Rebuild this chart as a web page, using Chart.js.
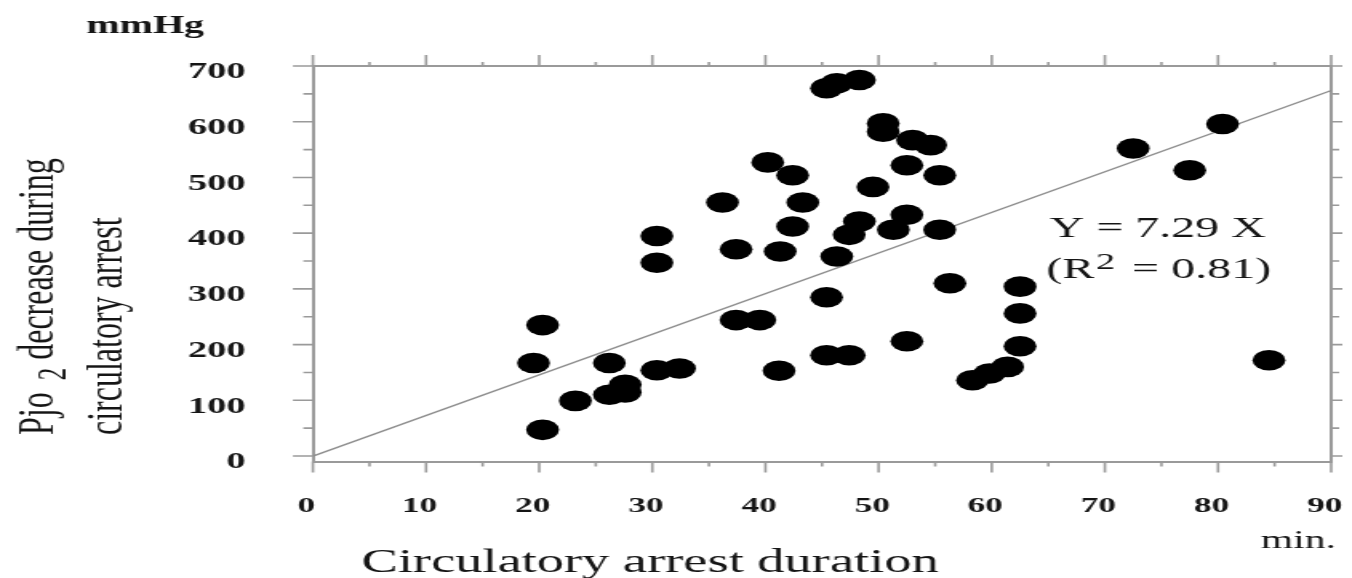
<!DOCTYPE html>
<html>
<head>
<meta charset="utf-8">
<title>Pjo2 decrease vs circulatory arrest duration</title>
<script src="https://cdn.jsdelivr.net/npm/chart.js@4.4.1/dist/chart.umd.min.js"></script>
<style>
  html, body { margin: 0; padding: 0; background: #fff; overflow: hidden; }
  /* the source figure is stretched sideways, so the chart is drawn narrow and widened */
  #wrap { position: absolute; left: 0; top: 0; width: 845px; height: 578px;
          transform: scaleX(1.6); transform-origin: 0 0; }
</style>
</head>
<body>
<div id="wrap"><canvas id="chart"></canvas></div>
<script>
// Circulatory arrest duration (min) and Pjo2 decrease (mmHg), one entry per case
const arrestMin = [19.5, 20.3, 20.3, 23.2, 26.2, 26.2, 27.6, 27.6, 30.4, 32.4,
                   30.4, 30.4, 36.2, 37.4, 37.4, 39.5, 40.2, 41.3, 41.2, 42.4,
                   42.4, 43.3, 45.4, 45.4, 47.4, 45.4, 46.3, 48.3, 46.3, 47.4,
                   48.3, 49.5, 50.4, 50.4, 51.3, 52.5, 52.5, 52.5, 53.0, 54.6,
                   55.4, 55.4, 56.3, 58.3, 59.8, 61.4, 62.5, 62.5, 62.5, 72.5,
                   77.5, 80.4, 84.5];
const pjoDrop   = [167, 235, 47, 99, 167, 110, 128, 114, 154, 157,
                   395, 347, 455, 371, 244, 244, 527, 367, 153, 504,
                   412, 455, 285, 181, 181, 660, 669, 675, 358, 397,
                   421, 483, 597, 582, 406, 433, 522, 206, 567, 558,
                   504, 406, 310, 136, 148, 160, 304, 256, 197, 552,
                   513, 596, 172];

// regression line Y = 7.29 X, ends
const fitX = [0, 90];
const fitY = [0, 656];

// tick labels and tick marks
const xTicks = [0, 10, 20, 30, 40, 50, 60, 70, 80, 90];
const yTicks = [0, 100, 200, 300, 400, 500, 600, 700];
const xMarks = [0, 5, 10, 15, 20, 25, 30, 35, 40, 45, 50, 55, 60, 65, 70, 75, 80, 85, 90];
const yMarks = [0, 50, 100, 150, 200, 250, 300, 350, 400, 450, 500, 550, 600, 650, 700];

const AXIS = '#9a9a9a';
const INK = '#151515';
const FONT = "'Liberation Serif', 'Times New Roman', serif";

// tick marks: long on the tens/hundreds, short in between, all pointing outward
const frameTicks = {
    id: 'frameTicks',
    afterDraw(chart) {
        const { ctx, chartArea: a, scales: { x, y } } = chart;
        ctx.save();
        ctx.strokeStyle = AXIS;
        ctx.lineWidth = 1.6;
        ctx.beginPath();
        xMarks.forEach(v => {
            const px = x.getPixelForValue(v);
            const major = v % 10 === 0;
            ctx.moveTo(px, a.bottom);
            ctx.lineTo(px, a.bottom + (major ? 11 : 5));
            ctx.moveTo(px, a.top);
            ctx.lineTo(px, a.top - (major ? 11 : 4));
        });
        yMarks.forEach(v => {
            const py = y.getPixelForValue(v);
            const major = v % 100 === 0;
            ctx.moveTo(a.left, py);
            ctx.lineTo(a.left - (major ? 12.5 : 6), py);
            ctx.moveTo(a.right, py);
            ctx.lineTo(a.right + (major ? 7 : 5), py);
        });
        ctx.stroke();
        ctx.restore();
    }
};

// titles, units and the regression equation
const figureText = {
    id: 'figureText',
    afterDraw(chart) {
        const ctx = chart.ctx;
        ctx.save();
        ctx.fillStyle = INK;
        ctx.textAlign = 'left';
        ctx.textBaseline = 'alphabetic';

        ctx.font = `bold 25px ${FONT}`;
        ctx.fillText('mmHg', 54, 33);

        ctx.font = `26px ${FONT}`;
        ctx.fillText('min.', 788, 548);

        ctx.font = `34px ${FONT}`;
        ctx.fillText('Circulatory arrest duration', 226, 572);

        // y title, two rotated lines with a subscript 2
        ctx.save();
        ctx.translate(0, 435);
        ctx.rotate(-Math.PI / 2);
        ctx.font = `32px ${FONT}`;
        let pos = 0;
        ctx.fillText('Pjo ', pos, 33);
        pos += ctx.measureText('Pjo ').width + 4;
        ctx.font = `25px ${FONT}`;
        ctx.fillText('2', pos, 41);
        pos += ctx.measureText('2').width;
        ctx.font = `32px ${FONT}`;
        ctx.fillText(' decrease during', pos, 33);
        ctx.fillText('circulatory arrest', 0, 76);
        ctx.restore();

        // equation
        ctx.font = `30px ${FONT}`;
        ctx.fillText('Y = 7.29 X', 656, 237);
        let ex = 654;
        ctx.fillText('(R', ex, 278);
        ex += ctx.measureText('(R').width + 1;
        ctx.font = `24px ${FONT}`;
        ctx.fillText('2', ex, 269);
        ex += ctx.measureText('2').width + 3;
        ctx.font = `30px ${FONT}`;
        ctx.fillText(' = 0.81)', ex, 278);

        ctx.restore();
    }
};

const points = arrestMin.map((m, i) => ({ x: m, y: pjoDrop[i] }));
const fitLine = fitX.map((m, i) => ({ x: m, y: fitY[i] }));

new Chart(document.getElementById('chart'), {
    type: 'scatter',
    data: {
        datasets: [{
            label: 'Cases',
            data: points,
            xAxisID: 'x',
            yAxisID: 'y',
            backgroundColor: '#000',
            borderWidth: 0,
            pointRadius: 10.3,
            pointHoverRadius: 10.3,
            order: 0
        }, {
            label: 'Y = 7.29 X',
            data: fitLine,
            xAxisID: 'x',
            yAxisID: 'y',
            showLine: true,
            borderColor: '#8c8c8c',
            borderWidth: 1.4,
            pointRadius: 0,
            order: 1
        }]
    },
    options: {
        responsive: true,
        maintainAspectRatio: false,
        animation: false,
        events: [],
        layout: { padding: 0 },
        plugins: {
            legend: { display: false },
            tooltip: { enabled: false }
        },
        scales: {
            x: {
                type: 'linear',
                axis: 'x',
                position: 'bottom',
                min: 0,
                max: 90,
                afterBuildTicks: s => { s.ticks = xTicks.map(v => ({ value: v })); },
                afterFit: s => { s.height = 116.4; },
                // invisible tick length only pushes the labels down
                grid: { display: false, drawTicks: true, tickLength: 30 },
                border: { display: true, color: AXIS, width: 2 },
                ticks: {
                    padding: 2,
                    labelOffset: -4,
                    maxRotation: 0,
                    autoSkip: false,
                    color: INK,
                    font: { family: FONT, size: 22, weight: 'bold' }
                }
            },
            xTop: {
                type: 'linear',
                axis: 'x',
                position: 'top',
                min: 0,
                max: 90,
                afterFit: s => { s.height = 66; },
                grid: { display: false, drawTicks: false },
                border: { display: true, color: AXIS, width: 2 },
                ticks: { display: false }
            },
            y: {
                type: 'linear',
                axis: 'y',
                position: 'left',
                min: -10,
                max: 700,
                afterBuildTicks: s => { s.ticks = yTicks.map(v => ({ value: v })); },
                afterFit: s => { s.width = 195.6; },
                grid: { display: false, drawTicks: false },
                border: { display: true, color: AXIS, width: 2 },
                ticks: {
                    padding: 42,
                    labelOffset: 6,
                    color: INK,
                    font: { family: FONT, size: 24, weight: 'bold' }
                }
            },
            yRight: {
                type: 'linear',
                axis: 'y',
                position: 'right',
                min: -10,
                max: 700,
                afterFit: s => { s.width = 12.5; },
                grid: { display: false, drawTicks: false },
                border: { display: true, color: AXIS, width: 2 },
                ticks: { display: false }
            }
        }
    },
    plugins: [frameTicks, figureText]
});
</script>
</body>
</html>
